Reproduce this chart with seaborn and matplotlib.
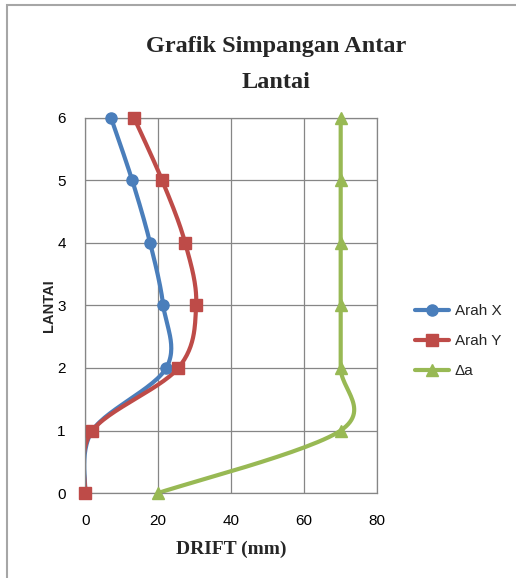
import numpy as np
import matplotlib
matplotlib.use("Agg")
import matplotlib.pyplot as plt
import seaborn as sns
from matplotlib.lines import Line2D
from matplotlib.patches import Rectangle

# data
lantai = [0, 1, 2, 3, 4, 5, 6]
arah_x = [0, 2, 22.2, 21.4, 17.8, 12.9, 7.1]
arah_y = [0, 2, 25.5, 30.4, 27.4, 21.1, 13.4]
delta_a = [20, 70, 70, 70, 70, 70, 70]

series = [
    ("Arah X", arah_x, "#4A7EBB", "o", 8),
    ("Arah Y", arah_y, "#BE4B48", "s", 8),
    ("\u0394a", delta_a, "#98B954", "^", 8),
]


def smooth(xs, ys, n=30):
    # Excel-style smoothed line (Catmull-Rom through the data points)
    p = np.column_stack([xs, ys]).astype(float)
    p = np.vstack([p[0], p, p[-1]])
    out = []
    t = np.linspace(0, 1, n)
    for i in range(1, len(p) - 2):
        p0, p1, p2, p3 = p[i - 1], p[i], p[i + 1], p[i + 2]
        c1 = p1 + (p2 - p0) / 6
        c2 = p2 - (p3 - p1) / 6
        seg = ((1 - t) ** 3)[:, None] * p1 + (3 * (1 - t) ** 2 * t)[:, None] * c1 \
            + (3 * (1 - t) * t ** 2)[:, None] * c2 + (t ** 3)[:, None] * p2
        out.append(seg if i == 1 else seg[1:])
    out = np.vstack(out)
    return out[:, 0], out[:, 1]


sns.set_style("white")
plt.rcParams["font.family"] = ["Liberation Sans", "DejaVu Sans"]

fig = plt.figure(figsize=(5.16, 5.78), dpi=100)
ax = fig.add_axes([0.165, 0.147, 0.566, 0.649])

handles = []
for name, vals, color, mk, ms in series:
    sx, sy = smooth(vals, lantai)
    sns.lineplot(x=sx, y=sy, sort=False, estimator=None, color=color, linewidth=3, ax=ax)
    ax.plot(vals, lantai, linestyle="none", marker=mk, markersize=ms, color=color, zorder=5, clip_on=False)
    handles.append(Line2D([], [], color=color, linewidth=3, marker=mk, markersize=ms, label=name))

ax.set_xlim(0, 80)
ax.set_ylim(0, 6)
ax.set_xticks([0, 20, 40, 60, 80])
ax.set_yticks(lantai)
ax.grid(True, color="#868686", linewidth=0.9)
for s in ax.spines.values():
    s.set_color("#868686")
    s.set_linewidth(0.9)
ax.tick_params(axis="both", direction="out", length=5, width=0.9, color="#868686",
               labelsize=11, labelcolor="#000000")
ax.tick_params(axis="y", pad=9)
ax.tick_params(axis="x", length=0, pad=15)

ax.set_xlabel("DRIFT (mm)", fontfamily="Liberation Serif", fontweight="bold", fontsize=14, labelpad=9)
ax.set_ylabel("LANTAI", fontweight="bold", fontsize=10.5)
ax.yaxis.set_label_coords(-0.10, 0.5)
fig.text(0.535, 0.919, "Grafik Simpangan Antar", ha="center", va="center",
         fontfamily="Liberation Serif", fontweight="bold", fontsize=17.5)
fig.text(0.535, 0.858, "Lantai", ha="center", va="center",
         fontfamily="Liberation Serif", fontweight="bold", fontsize=17.5)

fig.legend(handles=handles, loc="center left", bbox_to_anchor=(0.778, 0.41), frameon=False,
           fontsize=11, handlelength=2.2, labelspacing=1.05, handletextpad=0.4)

fig.patches.append(Rectangle((7 / 516, -0.01), 1.1, 1 - 5 / 578 + 0.01, transform=fig.transFigure,
                             fill=False, edgecolor="#A6A6A6", linewidth=1.5))

fig.savefig("out.png", dpi=100)
